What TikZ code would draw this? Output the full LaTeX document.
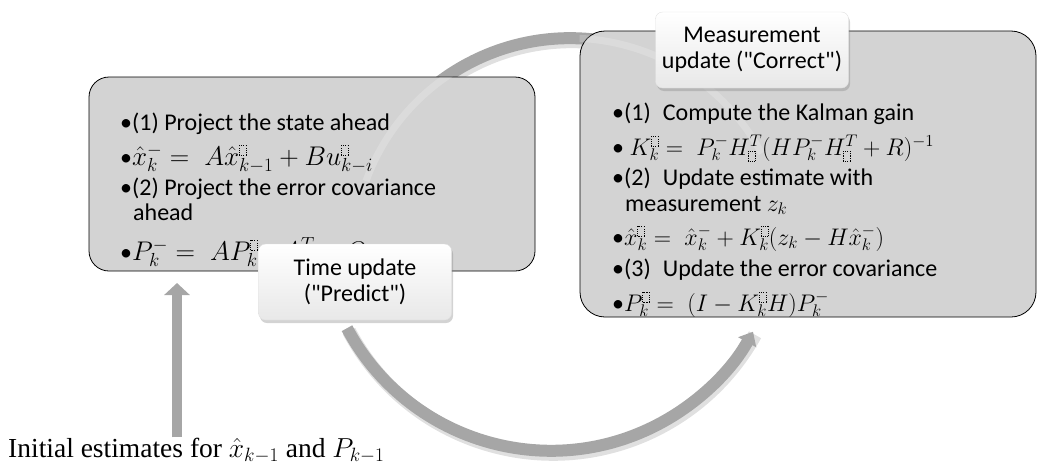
\RequirePackage{fix-cm}
\documentclass[tikz,border=0pt]{standalone}
\usepackage{fontspec}
\setmainfont{Carlito}
\newfontfamily\serifrm{Liberation Serif}
\usetikzlibrary{positioning,calc,arrows.meta,shadows}
\pgfdeclarelayer{bg}
\pgfsetlayers{bg,main}

\definecolor{boxgray}{RGB}{211,211,211}
\definecolor{arcgray}{RGB}{166,166,166}

% empty placeholder square of the equation editor
\newcommand{\ph}{\mbox{\setlength{\unitlength}{1pt}\begin{picture}(7,10)\put(0,0){\dashbox{1.1}(7,10){}}\end{picture}}}
% larger math of the left box
\newcommand{\bigmath}[1]{{\fontsize{27}{30}\selectfont$#1$}}

\tikzset{
  stepbg/.style={draw=black, line width=0.8pt, fill=boxgray, rounded corners=20pt, inner sep=0pt},
  tagbox/.style={rounded corners=7pt, draw=black!12, top color=white, bottom color=black!9,
    minimum width=193pt, minimum height=76pt, align=center, font=\fontsize{24}{26}\selectfont,
    drop shadow={opacity=0.35, shadow xshift=1.5pt, shadow yshift=-3pt}},
  txt/.style={anchor=base west, inner sep=0pt, font=\fontsize{24}{28}\selectfont},
  flow/.style={draw=arcgray, line width=12pt, -{Triangle[width=20pt,length=12pt]}},
  flowshadow/.style={draw=black, opacity=0.12, line width=14pt},
  uparrow/.style={draw=arcgray, line width=10pt, -{Triangle[width=25pt,length=12pt]}},
}

\begin{document}
\begin{tikzpicture}[x=1pt, y=1pt]
    \useasboundingbox (0,0) rectangle (1038,-466);
    \coordinate (upstart) at (366,-181);

    % the two steps
    \node[stepbg, minimum width=446pt, minimum height=194pt] (lbox) at (312,-174) {};
    \node[stepbg, rounded corners=25pt, minimum width=456pt, minimum height=286pt] (rbox) at (808,-174) {};

    % the cycle shows faintly through the boxes
    \begin{scope}
        \clip (lbox.south west) rectangle (lbox.north east) (rbox.south west) rectangle (rbox.north east);
        \draw[white, opacity=0.2, line width=7pt] (upstart) arc[start angle=160, end angle=28, radius=217];
    \end{scope}

    % time update
    \node[txt] (l1) at (120,-130) {\textbullet(1) Project the state ahead};
    \node[txt] (l2) at (120,-165) {\textbullet\bigmath{\hat{x}_k^- = \;A\hat{x}_{k-1}^{\ph} + Bu_{k-i}^{\ph}}};
    \node[txt] (l3) at (120,-195) {\textbullet(2) Project the error covariance};
    \node[txt] (l4) at (133,-220) {ahead};
    \node[txt] (l5) at (120,-260) {\textbullet\bigmath{P_k^- = \;AP_{k-1}^{\ph}A^T + Q}};

    % measurement update, cut by the bottom edge
    \begin{scope}
        \clip[rounded corners=25pt] (rbox.south west) rectangle (rbox.north east);
        \node[txt] (r1) at (612,-120) {\textbullet(1)\enspace Compute the Kalman gain};
        \node[txt] (r2) at (612,-155) {\textbullet\ $K_k^{\ph} = \;P_k^- H_{\ph}^T (HP_k^- H_{\ph}^T + R)^{-1}$};
        \node[txt] (r3) at (612,-185) {\textbullet(2)\enspace Update estimate with};
        \node[txt] (r4) at (625,-211) {measurement $z_k$};
        \node[txt] (r5) at (612,-245) {\textbullet$\hat{x}_k^{\ph} = \;\hat{x}_k^- + K_k^{\ph}(z_k - H\hat{x}_k^-)$};
        \node[txt] (r6) at (612,-276) {\textbullet(3)\enspace Update the error covariance};
        \node[txt] (r7) at (612,-311) {\textbullet$P_k^{\ph} = \;(I - K_k^{\ph}H)P_k^-$};
    \end{scope}

    % tags
    \node[tagbox] (predict) at (355,-282) {Time update\\(\textquotedbl Predict\textquotedbl)};
    \node[tagbox] (correct) at (752,-50) {Measurement\\update (\textquotedbl Correct\textquotedbl)};

    % start
    \node[anchor=base west, inner sep=0pt, font=\serifrm\fontsize{27.5}{30}\selectfont] (init) at (8,-457)
        {Initial estimates for $\hat{x}_{k-1}$ and $P_{k-1}$};
    \coordinate (inittip) at (177,-283);
    \draw[uparrow] (init.north -| inittip) -- (inittip);

    % cycle arrows
    \begin{pgfonlayer}{bg}
        \draw[flowshadow] ($(upstart)+(2,-3)$) arc[start angle=160, end angle=28, radius=217];
        \draw[flow] (upstart) arc[start angle=160, end angle=28, radius=217];
        \draw[flowshadow] ([shift={(-6,-11)}]predict.south) arc[start angle=208, end angle=331, radius=231];
        \draw[flow] ([shift={(-8,-8)}]predict.south) arc[start angle=208, end angle=331, radius=231];
    \end{pgfonlayer}
\end{tikzpicture}
\end{document}
